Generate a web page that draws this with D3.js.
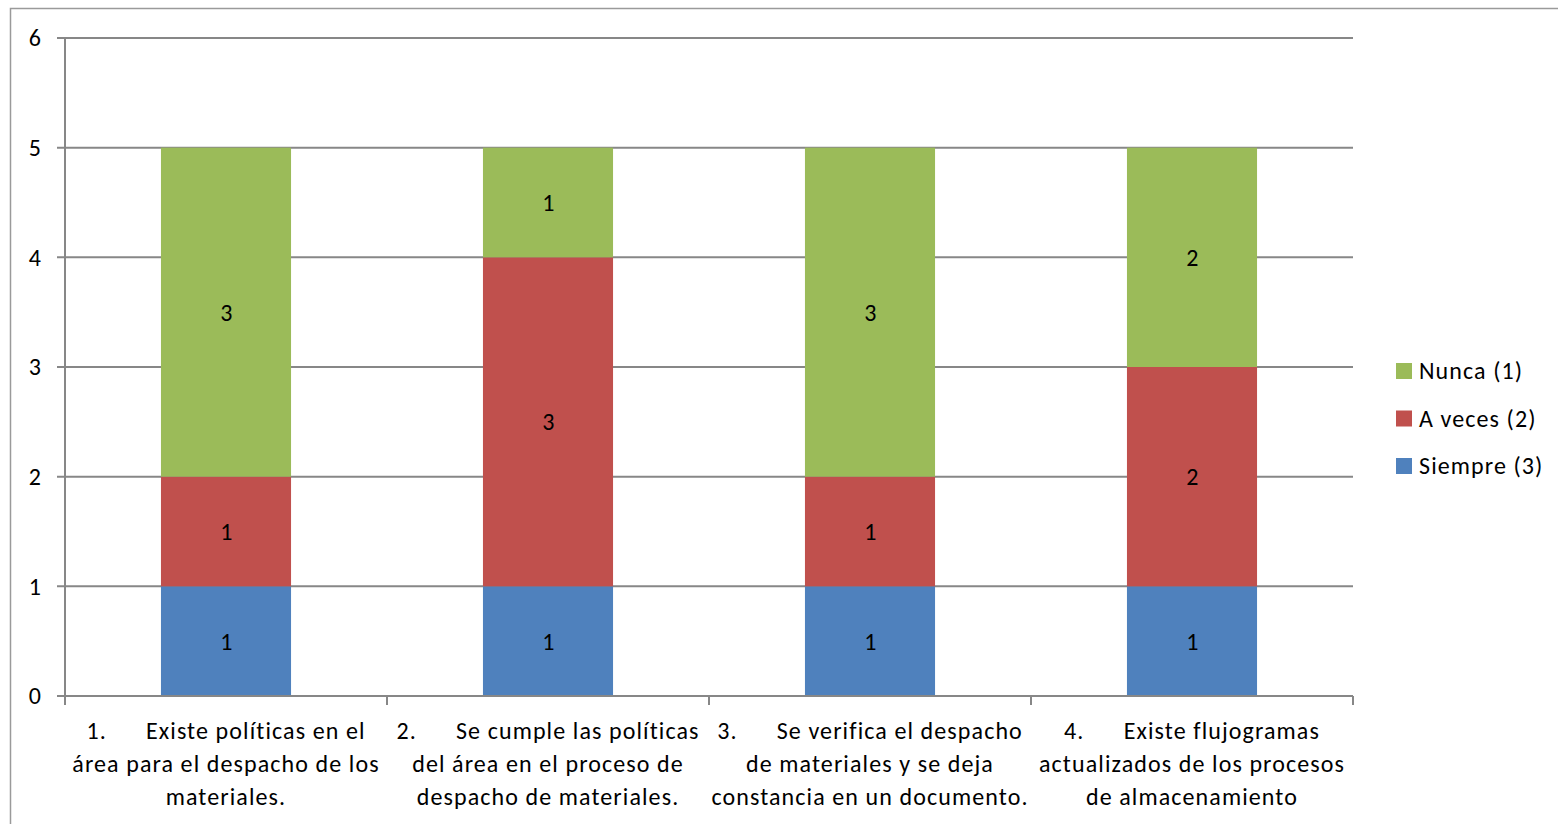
<!DOCTYPE html>
<html>
<head>
<meta charset="utf-8">
<script src="https://cdn.jsdelivr.net/npm/d3@7"></script>
<style>
  body { margin: 0; background: #fff; }
  svg { display: block; font-family: Carlito, Calibri, Lato, sans-serif; }
  svg text { letter-spacing: 1.1px; }
</style>
</head>
<body>
<svg id="chart" width="1558" height="824"></svg>
<script>
// categories (each label split into its lines)
const categories = ['1', '2', '3', '4'];
const categoryLines = [
    ['1.\u00a0\u00a0\u00a0\u00a0\u00a0\u00a0Existe políticas en el', 'área para el despacho de los', 'materiales.'],
    ['2.\u00a0\u00a0\u00a0\u00a0\u00a0\u00a0Se cumple las políticas', 'del área en el proceso de', 'despacho de materiales.'],
    ['3.\u00a0\u00a0\u00a0\u00a0\u00a0\u00a0Se verifica el despacho', 'de materiales y se deja', 'constancia en un documento.'],
    ['4.\u00a0\u00a0\u00a0\u00a0\u00a0\u00a0Existe flujogramas', 'actualizados de los procesos', 'de almacenamiento']
];

// series, bottom to top
const seriesNames = ['Siempre (3)', 'A veces (2)', 'Nunca (1)'];
const siempre = [1, 1, 1, 1];
const aVeces = [1, 3, 1, 2];
const nunca = [3, 1, 3, 2];
const seriesColors = ['#4F81BD', '#C0504D', '#9BBB59'];

const yTicks = [0, 1, 2, 3, 4, 5, 6];

const svg = d3.select('#chart');
const gridColor = '#878787';
const textColor = '#000';
const fontSize = '24px';

// outer chart border
svg.append('rect')
    .attr('x', 10.5).attr('y', 8.5)
    .attr('width', 1600).attr('height', 900)
    .attr('fill', 'none')
    .attr('stroke', '#9a9a9a')
    .attr('stroke-width', 1.5);

const plot = { left: 65, right: 1353, top: 38, bottom: 696 };

const x = d3.scaleBand()
    .domain(categories)
    .range([plot.left, plot.right])
    .padding(0);

const y = d3.scaleLinear()
    .domain([0, 6])
    .range([plot.bottom, plot.top]);

const barWidth = x.bandwidth() * 0.404;

// gridlines
svg.append('g')
    .selectAll('line')
    .data(yTicks)
    .join('line')
    .attr('x1', plot.left - 8)
    .attr('x2', plot.right)
    .attr('y1', d => y(d))
    .attr('y2', d => y(d))
    .attr('stroke', gridColor)
    .attr('stroke-width', 2);

// stacked data
const rows = categories.map((c, i) => ({
    cat: c,
    'Siempre (3)': siempre[i],
    'A veces (2)': aVeces[i],
    'Nunca (1)': nunca[i]
}));
const stacked = d3.stack().keys(seriesNames)(rows);

const layers = svg.append('g')
    .selectAll('g')
    .data(stacked)
    .join('g')
    .attr('fill', (d, i) => seriesColors[i]);

layers.selectAll('rect')
    .data(d => d)
    .join('rect')
    .attr('x', d => x(d.data.cat) + (x.bandwidth() - barWidth) / 2)
    .attr('width', barWidth)
    .attr('y', d => y(d[1]))
    .attr('height', d => y(d[0]) - y(d[1]));

// data labels
layers.selectAll('text')
    .data(d => d)
    .join('text')
    .attr('x', d => x(d.data.cat) + x.bandwidth() / 2 + 1)
    .attr('y', d => (y(d[0]) + y(d[1])) / 2)
    .attr('dy', '0.35em')
    .attr('text-anchor', 'middle')
    .attr('fill', textColor)
    .style('font-size', fontSize)
    .text(d => d[1] - d[0]);

// y axis
const yAxis = svg.append('g');
yAxis.append('line')
    .attr('x1', plot.left).attr('x2', plot.left)
    .attr('y1', plot.top).attr('y2', plot.bottom)
    .attr('stroke', gridColor)
    .attr('stroke-width', 2);
yAxis.selectAll('text')
    .data(yTicks)
    .join('text')
    .attr('x', 42)
    .attr('y', d => y(d))
    .attr('dy', '0.35em')
    .attr('text-anchor', 'end')
    .attr('fill', textColor)
    .style('font-size', fontSize)
    .text(d => d);

// x axis
const xAxis = svg.append('g');
xAxis.append('line')
    .attr('x1', plot.left).attr('x2', plot.right)
    .attr('y1', plot.bottom).attr('y2', plot.bottom)
    .attr('stroke', gridColor)
    .attr('stroke-width', 2);
const boundaries = categories.map(c => x(c)).concat([plot.right]);
xAxis.selectAll('line.tick')
    .data(boundaries)
    .join('line')
    .attr('class', 'tick')
    .attr('x1', d => d).attr('x2', d => d)
    .attr('y1', plot.bottom).attr('y2', plot.bottom + 9)
    .attr('stroke', gridColor)
    .attr('stroke-width', 2);

const catLabels = xAxis.selectAll('text')
    .data(categories)
    .join('text')
    .attr('text-anchor', 'middle')
    .attr('fill', textColor)
    .style('font-size', fontSize);
catLabels.selectAll('tspan')
    .data((d, i) => categoryLines[i].map(line => ({ cat: d, line })))
    .join('tspan')
    .attr('x', d => x(d.cat) + x.bandwidth() / 2)
    .attr('y', (d, i) => 739 + i * 33)
    .text(d => d.line);

// legend, top to bottom: Nunca, A veces, Siempre
const legendItems = seriesNames.map((name, i) => ({ name, color: seriesColors[i] })).reverse();
const legend = svg.append('g')
    .selectAll('g')
    .data(legendItems)
    .join('g')
    .attr('transform', (d, i) => `translate(1396, ${371 + i * 47.5})`);
legend.append('rect')
    .attr('x', 0).attr('y', -8)
    .attr('width', 16).attr('height', 16)
    .attr('fill', d => d.color);
legend.append('text')
    .attr('x', 23)
    .attr('dy', '0.35em')
    .attr('fill', textColor)
    .style('font-size', fontSize)
    .text(d => d.name);
</script>
</body>
</html>
